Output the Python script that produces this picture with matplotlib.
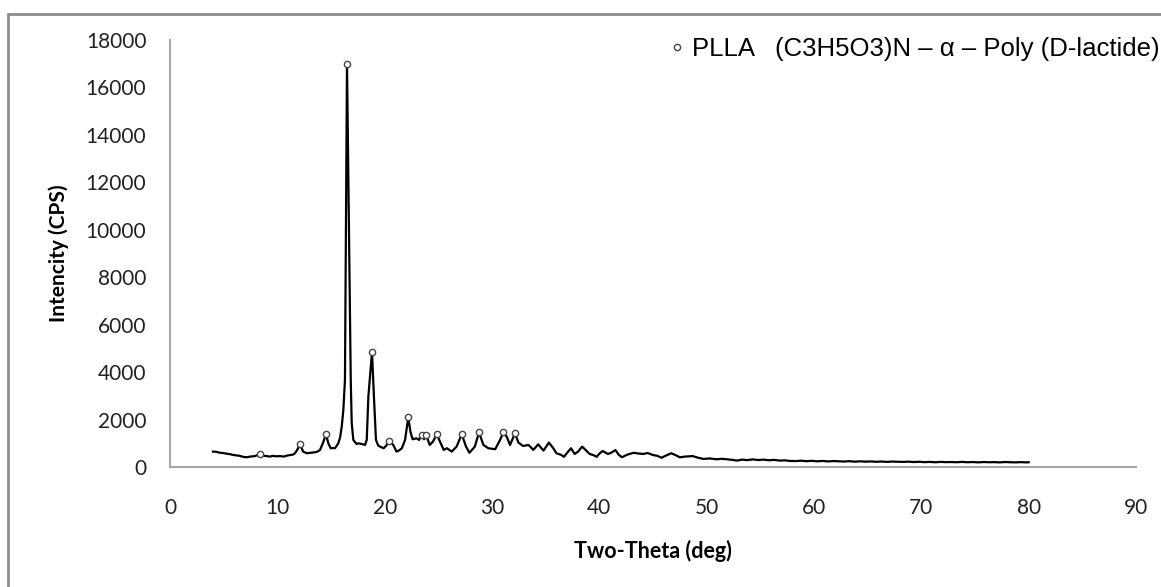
import matplotlib
matplotlib.use("Agg")
import matplotlib.pyplot as plt
from matplotlib.patches import Rectangle

# XRD pattern (2-theta in deg, intensity in CPS)
two_theta = [
    4.0, 4.3, 4.66, 5.0, 5.3, 5.6, 5.9, 6.2, 6.5, 6.8, 7.14, 7.5, 7.9, 8.15, 8.39, 8.6,
    9.0, 9.3, 9.6, 9.9, 10.25, 10.6, 10.9, 11.2, 11.45, 11.65, 11.9, 12.11, 12.4, 12.74,
    13.1, 13.5, 13.75, 13.98, 14.3, 14.53, 14.75, 14.97, 15.2, 15.37, 15.68, 15.85, 16.0,
    16.15, 16.3, 16.49, 16.84, 16.93, 17.08, 17.2, 17.39, 17.55, 17.86, 18.17, 18.33,
    18.48, 18.82, 19.0, 19.19, 19.4, 19.57, 19.9, 20.15, 20.43, 20.8, 21.1, 21.35, 21.6,
    21.9, 22.2, 22.4, 22.6, 22.98, 23.2, 23.45, 23.67, 23.85, 24.2, 24.5, 24.85, 25.15,
    25.5, 25.8, 26.25, 26.7, 27.18, 27.58, 27.9, 28.4, 28.79, 29.2, 29.66, 30.3, 30.75,
    31.06, 31.37, 31.68, 32.14, 32.46, 32.9, 33.4, 33.85, 34.3, 34.8, 35.3, 35.7, 36.0,
    36.4, 36.7, 37.0, 37.36, 37.7, 38.0, 38.4, 38.8, 39.1, 39.45, 39.75, 40.0, 40.3, 40.8,
    41.1, 41.5, 41.8, 42.1, 42.6, 43.2, 43.6, 44.1, 44.5, 45.0, 45.4, 45.8, 46.2, 46.7,
    47.1, 47.5, 48.0, 48.7, 49.2, 49.7, 50.3, 50.9, 51.4, 51.9, 52.4, 52.8, 53.3, 53.8,
    54.3, 54.8, 55.3, 55.8, 56.3, 56.8, 57.3, 57.8, 58.3, 58.8, 59.3, 59.8, 60.3, 60.8,
    61.3, 61.8, 62.3, 62.8, 63.3, 63.8, 64.3, 64.8, 65.3, 65.8, 66.3, 66.8, 67.3, 67.8,
    68.3, 68.8, 69.3, 69.8, 70.3, 70.8, 71.3, 71.8, 72.3, 72.8, 73.3, 73.8, 74.3, 74.8,
    75.3, 75.8, 76.3, 76.8, 77.3, 77.8, 78.3, 78.8, 79.3, 79.8, 80.0,
]
intensity = [
    650, 640, 600, 585, 560, 540, 505, 490, 470, 430, 410, 440, 460, 500, 550, 480,
    460, 440, 470, 450, 460, 440, 480, 505, 520, 580, 760, 970, 650, 580,
    600, 620, 650, 720, 1070, 1390, 1000, 790, 800, 790, 1000, 1250, 1700,
    2400, 3670, 17000, 3670, 1850, 1140, 1070, 970, 1000, 970, 930, 1140,
    2960, 4850, 2960, 1140, 900, 860, 790, 900, 1110, 930, 650, 700, 790,
    1140, 2090, 1490, 1170, 1210, 1140, 1350, 1170, 1350, 930, 1070, 1380, 1070,
    720, 790, 650, 860, 1380, 860, 600, 860, 1460, 930, 790, 750, 1140,
    1460, 1280, 930, 1420, 1030, 885, 930, 720, 955, 690, 1030, 800, 580,
    520, 430, 600, 790, 550, 640, 860, 680, 550, 500, 430, 560, 675, 550,
    600, 715, 520, 410, 520, 600, 570, 550, 590, 505, 470, 390, 480, 580,
    500, 410, 440, 460, 390, 340, 360, 325, 345, 325, 300, 270, 310, 290,
    320, 295, 310, 285, 300, 270, 280, 255, 250, 265, 245, 260, 240, 255,
    235, 250, 240, 230, 245, 225, 240, 225, 235, 220, 230, 215, 230, 220,
    215, 225, 210, 220, 205, 215, 200, 215, 205, 210, 200, 215, 200, 210,
    195, 210, 200, 205, 195, 210, 200, 195, 205, 195, 200,
]

# peaks flagged with open circles
peak_theta = [8.39, 12.11, 14.53, 16.49, 18.82, 20.43, 22.2, 23.45, 23.85, 24.85,
              27.18, 28.79, 31.06, 32.14]
peak_int = [550, 970, 1390, 17000, 4850, 1110, 2090, 1350, 1350, 1380,
            1380, 1460, 1460, 1420]

x_ticks = [0, 10, 20, 30, 40, 50, 60, 70, 80, 90]
y_ticks = [0, 2000, 4000, 6000, 8000, 10000, 12000, 14000, 16000, 18000]
legend_label = "PLLA   (C3H5O3)N \u2013 \u03b1 \u2013 Poly (D-lactide)"

W, H = 1161, 587
fig = plt.figure(figsize=(W / 100, H / 100), dpi=100)
ax = fig.add_axes([170 / W, 1 - 467 / H, (1136 - 170) / W, (467 - 40) / H])

ax.plot(two_theta, intensity, color="black", lw=1.6, zorder=2)
ax.plot(peak_theta, peak_int, ls="none", marker="o", ms=4.5, mfc="white",
        mec="#444444", mew=1.0, zorder=3, label=legend_label)

ax.set_xlim(0, 90)
ax.set_ylim(0, 18000)
ax.set_xticks(x_ticks)
ax.set_yticks(y_ticks)
ax.set_xticklabels([str(v) for v in x_ticks], family="Lato", fontsize=15, color="#222222")
ax.set_yticklabels([str(v) for v in y_ticks], family="Lato", fontsize=15, color="#222222")
ax.tick_params(axis="x", length=0, pad=22)
ax.tick_params(axis="y", length=0, pad=17)

for side in ("top", "right"):
    ax.spines[side].set_visible(False)
for side in ("left", "bottom"):
    ax.spines[side].set_color("#a6a6a6")
    ax.spines[side].set_linewidth(1.5)

ax.set_xlabel("Two-Theta (deg)", family="Lato", fontweight="bold", fontsize=15.5, labelpad=16)
ax.set_ylabel("Intencity (CPS)", family="Lato", fontweight="bold", fontsize=15, labelpad=12)

ax.legend(loc="center right", bbox_to_anchor=(1172 / W, 1 - 49 / H),
          bbox_transform=fig.transFigure, frameon=False, borderpad=0,
          handlelength=0.5, handletextpad=0.3, numpoints=1,
          prop={"family": "Liberation Sans", "size": 18.5})

# outer chart frame, cut off on the right and bottom like the screenshot
fig.patches.append(Rectangle((7.5 / W, -0.1), 2, (H - 13.5) / H + 0.1,
                             transform=fig.transFigure, fill=False,
                             edgecolor="#8c8c8c", lw=2.0))

fig.savefig("out.png", dpi=100)
